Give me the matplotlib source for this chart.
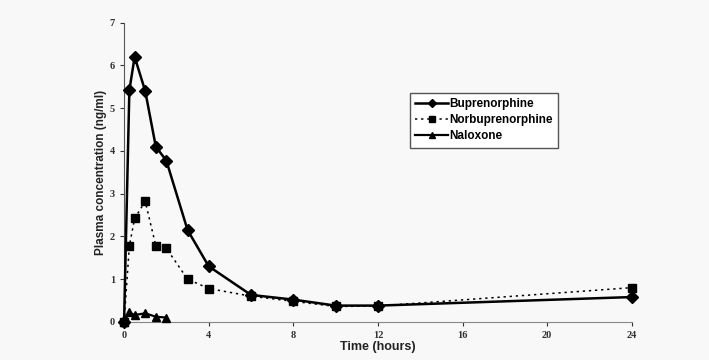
import matplotlib.pyplot as plt

time_bup = [0, 0.25, 0.5, 1, 1.5, 2, 3, 4, 6, 8, 10, 12, 24]
buprenorphine = [0.0, 5.42, 6.2, 5.4, 4.1, 3.77, 2.15, 1.3, 0.63, 0.52, 0.38, 0.38, 0.58]

time_nor = [0, 0.25, 0.5, 1, 1.5, 2, 3, 4, 6, 8, 10, 12, 24]
norbuprenorphine = [0.0, 1.78, 2.42, 2.82, 1.78, 1.72, 1.0, 0.78, 0.6, 0.48, 0.36, 0.37, 0.8]

time_nal = [0, 0.25, 0.5, 1, 1.5, 2]
naloxone = [0.0, 0.22, 0.16, 0.2, 0.12, 0.1]

bg = "#f8f8f8"
fig = plt.figure(figsize=(7.09, 3.6), dpi=100, facecolor=bg)
ax = fig.add_axes([0.175, 0.106, 0.716, 0.831], facecolor=bg)

ax.plot(time_bup, buprenorphine, color="black", lw=1.8, marker="D", ms=6,
        label="Buprenorphine", clip_on=False, zorder=3)
ax.plot(time_nor, norbuprenorphine, color="black", lw=1.1, ls=(0, (1.5, 2.5)),
        marker="s", ms=6, label="Norbuprenorphine", clip_on=False, zorder=3)
ax.plot(time_nal, naloxone, color="black", lw=1.6, marker="^", ms=6,
        label="Naloxone", clip_on=False, zorder=3)

ax.set_xlim(0, 24)
ax.set_ylim(0, 7)
ax.set_xticks([0, 4, 8, 12, 16, 20, 24])
ax.set_yticks(range(8))
for s in ["top", "right"]:
    ax.spines[s].set_visible(False)
ax.spines["left"].set_color("#555555")
ax.spines["bottom"].set_color("#888888")
ax.tick_params(length=3, width=0.8, colors="#333333", labelsize=7.5)
for lab in ax.get_xticklabels() + ax.get_yticklabels():
    lab.set_fontfamily("Liberation Serif")
    lab.set_fontweight("bold")

ax.set_xlabel("Time (hours)", fontsize=9, fontweight="bold",
              family="Liberation Sans", color="#222222", labelpad=1)
ax.set_ylabel("Plasma concentration (ng/ml)", fontsize=8.5, fontweight="bold",
              family="Liberation Sans", color="#222222", labelpad=2)

leg = ax.legend(loc="upper left", bbox_to_anchor=(0.551, 0.785), fancybox=False,
                edgecolor="#555555", framealpha=1, facecolor="white",
                prop={"family": "Liberation Sans", "weight": "bold", "size": 8.5},
                handlelength=2.8, borderpad=0.45, labelspacing=0.35,
                handletextpad=0.1, markerscale=0.7)
leg.get_frame().set_linewidth(1.0)

fig.savefig("out.png", dpi=100, facecolor=bg)
